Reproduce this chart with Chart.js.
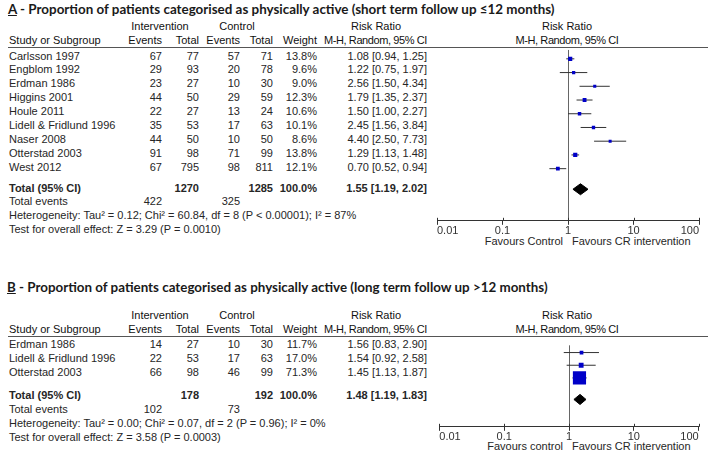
<!DOCTYPE html>
<html>
<head>
<meta charset="utf-8">
<script src="https://cdn.jsdelivr.net/npm/chart.js@4.4.1/dist/chart.umd.min.js"></script>
<style>
  body { margin: 0; background: #fff; }
  #page { position: relative; width: 708px; height: 450px; overflow: hidden;
          font-family: "Liberation Sans", Arial, sans-serif; font-size: 11px; color: #262626; }
  .t { position: absolute; white-space: nowrap; line-height: 13px; }
  .b { font-weight: bold; }
  .h { color: #111; }
  .tight { letter-spacing: -0.4px; }
  .title { position: absolute; white-space: nowrap; font-family: Lato, "Open Sans", sans-serif;
           font-weight: bold; font-size: 13px; line-height: 16px; color: #1a1a1a; }
  .rule { position: absolute; height: 1px; background: #555; }
  canvas { position: absolute; }
</style>
</head>
<body>
<div id="page"></div>
<script>
// ---- panel A: short term follow up (<=12 months)
const studiesA = ['Carlsson 1997', 'Engblom 1992', 'Erdman 1986', 'Higgins 2001', 'Houle 2011',
                  'Lidell & Fridlund 1996', 'Naser 2008', 'Otterstad 2003', 'West 2012'];
const intEventsA = [67, 29, 23, 44, 22, 35, 44, 91, 67];
const intTotalA = [77, 93, 27, 50, 27, 53, 50, 98, 795];
const ctrlEventsA = [57, 20, 10, 29, 13, 17, 10, 71, 98];
const ctrlTotalA = [71, 78, 30, 59, 24, 63, 50, 99, 811];
const weightA = [13.8, 9.6, 9.0, 12.3, 10.6, 10.1, 8.6, 13.8, 12.1];
const rrA = [1.08, 1.22, 2.56, 1.79, 1.50, 2.45, 4.40, 1.29, 0.70];
const loA = [0.94, 0.75, 1.50, 1.35, 1.00, 1.56, 2.50, 1.13, 0.52];
const hiA = [1.25, 1.97, 4.34, 2.37, 2.27, 3.84, 7.73, 1.48, 0.94];
const totalA = { intTotal: 1270, ctrlTotal: 1285, intEvents: 422, ctrlEvents: 325, rr: 1.55, lo: 1.19, hi: 2.02 };
const heteroA = 'Heterogeneity: Tau\u00B2 = 0.12; Chi\u00B2 = 60.84, df = 8 (P < 0.00001); I\u00B2 = 87%';
const testA = 'Test for overall effect: Z = 3.29 (P = 0.0010)';

// ---- panel B: long term follow up (>12 months)
const studiesB = ['Erdman 1986', 'Lidell & Fridlund 1996', 'Otterstad 2003'];
const intEventsB = [14, 22, 66];
const intTotalB = [27, 53, 98];
const ctrlEventsB = [10, 17, 46];
const ctrlTotalB = [30, 63, 99];
const weightB = [11.7, 17.0, 71.3];
const rrB = [1.56, 1.54, 1.45];
const loB = [0.83, 0.92, 1.13];
const hiB = [2.90, 2.58, 1.87];
const totalB = { intTotal: 178, ctrlTotal: 192, intEvents: 102, ctrlEvents: 73, rr: 1.48, lo: 1.19, hi: 1.83 };
const heteroB = 'Heterogeneity: Tau\u00B2 = 0.00; Chi\u00B2 = 0.07, df = 2 (P = 0.96); I\u00B2 = 0%';
const testB = 'Test for overall effect: Z = 3.58 (P = 0.0003)';

const tickValues = [0.01, 0.1, 1, 10, 100];

const page = document.getElementById('page');

function put(text, x, y, align, cls) {
    const el = document.createElement('div');
    el.className = 't' + (cls ? ' ' + cls : '');
    el.textContent = text;
    el.style.top = (y - 6.5) + 'px';
    if (align === 'right') {
        el.style.right = (708 - x) + 'px';
    } else if (align === 'center') {
        el.style.left = x + 'px';
        el.style.transform = 'translateX(-50%)';
    } else {
        el.style.left = x + 'px';
    }
    page.appendChild(el);
    return el;
}

function putTitle(letter, rest, x, y, width) {
    const el = document.createElement('div');
    el.className = 'title';
    const u = document.createElement('u');
    u.textContent = letter;
    el.appendChild(u);
    el.appendChild(document.createTextNode(rest));
    el.style.left = x + 'px';
    el.style.top = (y - 8) + 'px';
    page.appendChild(el);
    // fit the title to the width it has in the picture
    const w = el.getBoundingClientRect().width;
    el.style.fontSize = (13 * width / w).toFixed(2) + 'px';
}

const fmt = v => v.toFixed(2);
const ciText = (r, l, h) => `${fmt(r)} [${fmt(l)}, ${fmt(h)}]`;

// small marks that cross the axis line upwards, like RevMan draws them
const crossTicks = {
    id: 'crossTicks',
    afterDraw(chart) {
        const sx = chart.scales.x;
        const ctx = chart.ctx;
        const y = chart.chartArea.bottom;
        ctx.save();
        ctx.strokeStyle = '#333';
        ctx.lineWidth = 1;
        ctx.beginPath();
        sx.ticks.forEach(t => {
            const x = Math.round(sx.getPixelForValue(t.value)) + 0.5;
            ctx.moveTo(x, y - 3);
            ctx.lineTo(x, y);
        });
        ctx.stroke();
        ctx.restore();
    }
};

function drawPanel(p) {
    const rowY = i => p.row0Y + i * p.rowH;

    putTitle(p.letter, p.title, p.titleX, p.titleY, p.titleW);

    // header
    put('Intervention', 160, p.head1Y, 'center', 'h');
    put('Control', 237, p.head1Y, 'center', 'h');
    put('Risk Ratio', 376, p.head1Y, 'center', 'h');
    put('Risk Ratio', 567, p.head1Y, 'center', 'h');
    put('Study or Subgroup', 9, p.head2Y, 'left', 'h');
    put('Events', 162, p.head2Y, 'right', 'h');
    put('Total', 199, p.head2Y, 'right', 'h');
    put('Events', 240, p.head2Y, 'right', 'h');
    put('Total', 273, p.head2Y, 'right', 'h');
    put('Weight', 317, p.head2Y, 'right', 'h');
    put('M-H, Random, 95% CI', 427, p.head2Y, 'right', 'h tight');
    put('M-H, Random, 95% CI', 567, p.head2Y, 'center', 'h tight');

    const rule = document.createElement('div');
    rule.className = 'rule';
    rule.style.left = '8px';
    rule.style.width = '700px';
    rule.style.top = p.lineY + 'px';
    page.appendChild(rule);

    // study rows
    p.studies.forEach((s, i) => {
        const y = rowY(i);
        put(s, 9, y, 'left');
        put(String(p.intEvents[i]), 162, y, 'right');
        put(String(p.intTotal[i]), 199, y, 'right');
        put(String(p.ctrlEvents[i]), 240, y, 'right');
        put(String(p.ctrlTotal[i]), 273, y, 'right');
        put(p.weight[i].toFixed(1) + '%', 317, y, 'right');
        put(ciText(p.rr[i], p.lo[i], p.hi[i]), 427, y, 'right');
    });

    // total rows
    const totY = rowY(p.totalIdx);
    put('Total (95% CI)', 9, totY, 'left', 'b');
    put(String(p.total.intTotal), 199, totY, 'right', 'b');
    put(String(p.total.ctrlTotal), 273, totY, 'right', 'b');
    put('100.0%', 317, totY, 'right', 'b');
    put(ciText(p.total.rr, p.total.lo, p.total.hi), 427, totY, 'right', 'b');
    put('Total events', 9, totY + p.rowH, 'left');
    put(String(p.total.intEvents), 162, totY + p.rowH, 'right');
    put(String(p.total.ctrlEvents), 240, totY + p.rowH, 'right');
    put(p.hetero, 9, totY + 2 * p.rowH, 'left');
    put(p.test, 9, totY + 3 * p.rowH, 'left');

    put(p.favLeft, 563, p.favY, 'right');
    put('Favours CR intervention', 572, p.favY, 'left');

    // forest plot
    const canvas = document.createElement('canvas');
    const cw = 278, ch = p.axisY - p.lineY + 18;
    canvas.width = cw;
    canvas.height = ch;
    canvas.style.left = '430px';
    canvas.style.top = p.lineY + 'px';
    canvas.style.width = cw + 'px';
    canvas.style.height = ch + 'px';
    page.appendChild(canvas);

    const ciData = [];
    p.rr.forEach((r, i) => {
        ciData.push({ x: p.lo[i], y: i }, { x: p.hi[i], y: i }, { x: null, y: null });
    });
    const squares = p.rr.map((r, i) => ({ x: r, y: i }));
    const h = 0.4;
    const t = p.totalIdx;
    const diamond = [
        { x: p.total.lo, y: t }, { x: p.total.rr, y: t - h },
        { x: p.total.hi, y: t }, { x: p.total.rr, y: t + h }, { x: p.total.lo, y: t }
    ];
    const weights = p.weight;
    const boxSize = ctx => Math.pow(weights[ctx.dataIndex], 0.7) * 0.47;

    new Chart(canvas.getContext('2d'), {
        type: 'scatter',
        data: {
            datasets: [
                {
                    label: 'Study',
                    data: squares,
                    order: 0,
                    pointStyle: 'rect',
                    pointRadius: boxSize,
                    pointHoverRadius: boxSize,
                    backgroundColor: '#0000c8',
                    borderWidth: 0
                },
                {
                    label: 'CI',
                    data: ciData,
                    order: 1,
                    showLine: true,
                    spanGaps: false,
                    borderColor: '#333',
                    borderWidth: 1,
                    pointRadius: 0
                },
                {
                    label: 'Total',
                    data: diamond,
                    order: 2,
                    showLine: true,
                    fill: 'shape',
                    borderColor: '#000',
                    backgroundColor: '#000',
                    borderWidth: 1,
                    pointRadius: 0,
                    tension: 0
                }
            ]
        },
        options: {
            responsive: false,
            animation: false,
            events: [],
            layout: { padding: { left: 7, right: 9, top: 0, bottom: 0 } },
            plugins: { legend: { display: false }, tooltip: { enabled: false } },
            scales: {
                x: {
                    type: 'logarithmic',
                    min: 0.01,
                    max: 100,
                    afterBuildTicks: axis => { axis.ticks = tickValues.map(v => ({ value: v })); },
                    border: { display: true, color: '#333', width: 1 },
                    grid: {
                        drawOnChartArea: true,
                        drawTicks: true,
                        tickLength: 4,
                        tickColor: '#333',
                        color: ctx => (ctx.tick && ctx.tick.value === 1) ? '#666' : 'rgba(0,0,0,0)'
                    },
                    ticks: {
                        align: 'inner',
                        padding: 0,
                        maxRotation: 0,
                        autoSkip: false,
                        color: '#333',
                        font: { family: '"Liberation Sans", Arial, sans-serif', size: 11 },
                        callback: v => String(v)
                    }
                },
                y: {
                    type: 'linear',
                    display: false,
                    reverse: true,
                    min: p.yMin,
                    max: p.yMax
                }
            }
        },
        plugins: [crossTicks]
    });
}

drawPanel({
    letter: 'A',
    title: ' - Proportion of patients categorised as physically active (short term follow up \u226412 months)',
    titleX: 8, titleY: 9, titleW: 547,
    studies: studiesA, intEvents: intEventsA, intTotal: intTotalA, ctrlEvents: ctrlEventsA,
    ctrlTotal: ctrlTotalA, weight: weightA, rr: rrA, lo: loA, hi: hiA, total: totalA,
    hetero: heteroA, test: testA, favLeft: 'Favours Control',
    head1Y: 26, head2Y: 40, lineY: 47, row0Y: 56, rowH: 13.9, totalIdx: 9.5,
    axisY: 220, favY: 241,
    yMin: (47 - 56) / 13.9, yMax: (220 - 56) / 13.9
});

drawPanel({
    letter: 'B',
    title: ' - Proportion of patients categorised as physically active (long term follow up >12 months)',
    titleX: 7, titleY: 287, titleW: 541,
    studies: studiesB, intEvents: intEventsB, intTotal: intTotalB, ctrlEvents: ctrlEventsB,
    ctrlTotal: ctrlTotalB, weight: weightB, rr: rrB, lo: loB, hi: hiB, total: totalB,
    hetero: heteroB, test: testB, favLeft: 'Favours control',
    head1Y: 315, head2Y: 329, lineY: 336, row0Y: 344, rowH: 14, totalIdx: 3.7,
    axisY: 426, favY: 446,
    yMin: (336 - 344) / 14, yMax: (426 - 344) / 14
});
</script>
</body>
</html>
